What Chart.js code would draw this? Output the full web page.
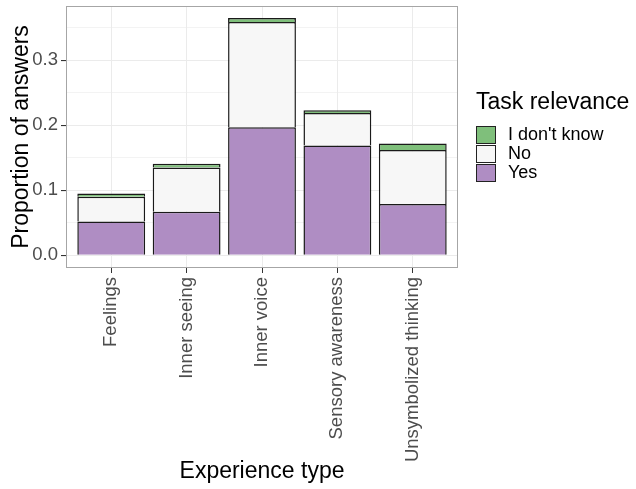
<!DOCTYPE html>
<html>
<head>
<meta charset="utf-8">
<script src="https://cdn.jsdelivr.net/npm/chart.js@4"></script>
<style>
  body { margin: 0; background: #fff; font-family: "Liberation Sans", Arial, sans-serif; }
  #wrap { position: relative; width: 636px; height: 489px; }
  #legend { position: absolute; left: 476px; top: 88px; color: #000; }
  #legend .title { font-size: 23px; margin-bottom: 10px; }
  #legend .item { display: flex; align-items: center; height: 19px; font-size: 18px; }
  #legend .key { width: 18px; height: 16px; border: 1.5px solid #222; margin-right: 12px; }
</style>
</head>
<body>
<div id="wrap">
  <canvas id="chart" width="636" height="489"></canvas>
  <div id="legend"></div>
</div>
<script>
const categories = ["Feelings", "Inner seeing", "Inner voice", "Sensory awareness", "Unsymbolized thinking"];
const yesValues = [0.052, 0.067, 0.197, 0.169, 0.079];
const noValues = [0.038, 0.068, 0.162, 0.050, 0.083];
const dontKnowValues = [0.005, 0.006, 0.006, 0.004, 0.010];
const yTicks = [0, 0.05, 0.1, 0.15, 0.2, 0.25, 0.3, 0.35];

const colors = { yes: "#AF8DC3", no: "#F7F7F7", idk: "#7FBF7B" };

function toPoints(values) {
    return values.map((v, i) => ({ x: i + 1, y: v }));
}

// panel border like ggplot
const panelBorder = {
    id: "panelBorder",
    afterDraw(chart) {
        const a = chart.chartArea;
        const c = chart.ctx;
        c.save();
        c.strokeStyle = "#a6a6a6";
        c.lineWidth = 1;
        c.strokeRect(a.left + 0.5, a.top + 0.5, a.right - a.left - 1, a.bottom - a.top - 1);
        c.restore();
    },
};

const ctx = document.getElementById("chart").getContext("2d");
const chart = new Chart(ctx, {
    type: "bar",
    data: {
        datasets: [
            {
                label: "Yes",
                data: toPoints(yesValues),
                backgroundColor: colors.yes,
                borderColor: "#1a1a1a",
                borderWidth: 1.5,
            },
            {
                label: "No",
                data: toPoints(noValues),
                backgroundColor: colors.no,
                borderColor: "#1a1a1a",
                borderWidth: 1.5,
            },
            {
                label: "I don't know",
                data: toPoints(dontKnowValues),
                backgroundColor: colors.idk,
                borderColor: "#1a1a1a",
                borderWidth: 1.5,
            },
        ],
    },
    options: {
        responsive: false,
        animation: false,
        barPercentage: 0.9,
        categoryPercentage: 1,
        layout: { padding: { top: 6, right: 178, left: 0, bottom: 0 } },
        plugins: { legend: { display: false }, tooltip: { enabled: false } },
        scales: {
            x: {
                type: "linear",
                stacked: true,
                offset: false,
                min: 0.4,
                max: 5.6,
                afterBuildTicks: (s) => { s.ticks = categories.map((c, i) => ({ value: i + 1 })); },
                afterFit: (s) => { s.height = 221; s.paddingLeft = 0; s.paddingRight = 0; },
                ticks: {
                    minRotation: 90,
                    maxRotation: 90,
                    autoSkip: false,
                    padding: 4,
                    color: "#4d4d4d",
                    font: { family: "Liberation Sans", size: 18.5 },
                    callback: (v) => categories[Math.round(v) - 1],
                },
                grid: { offset: false, color: "#ebebeb", lineWidth: 1, tickLength: 5, tickColor: "#333" },
                border: { display: false },
                title: {
                    display: true,
                    text: "Experience type",
                    color: "#000",
                    font: { family: "Liberation Sans", size: 23 },
                    padding: { top: 4, bottom: 4 },
                },
            },
            y: {
                stacked: true,
                min: -0.0195,
                max: 0.3835,
                afterBuildTicks: (s) => { s.ticks = yTicks.map((v) => ({ value: v })); },
                afterFit: (s) => { s.width = 66; s.paddingTop = 0; s.paddingBottom = 0; },
                ticks: {
                    padding: 3,
                    color: "#4d4d4d",
                    font: { family: "Liberation Sans", size: 18.5 },
                    callback: (v) => (Math.round(v * 100) % 10 === 0 ? v.toFixed(1) : ""),
                },
                grid: {
                    color: "#ebebeb",
                    lineWidth: (c) => (Math.round(c.tick.value * 100) % 10 === 0 ? 1.1 : 0.6),
                    tickLength: 5,
                    tickColor: (c) => (Math.round(c.tick.value * 100) % 10 === 0 ? "#333" : "rgba(0,0,0,0)"),
                },
                border: { display: false },
                title: {
                    display: true,
                    text: "Proportion of answers",
                    color: "#000",
                    font: { family: "Liberation Sans", size: 23 },
                    padding: { top: 8, bottom: 4 },
                },
            },
        },
    },
    plugins: [panelBorder],
});

// legend (ggplot order: I don't know, No, Yes)
const legendItems = [
    ["I don't know", colors.idk],
    ["No", colors.no],
    ["Yes", colors.yes],
];
const legend = document.getElementById("legend");
legend.innerHTML = '<div class="title">Task relevance</div>' +
    legendItems.map(([t, c]) =>
        '<div class="item"><span class="key" style="background:' + c + '"></span>' + t + "</div>"
    ).join("");
</script>
</body>
</html>
